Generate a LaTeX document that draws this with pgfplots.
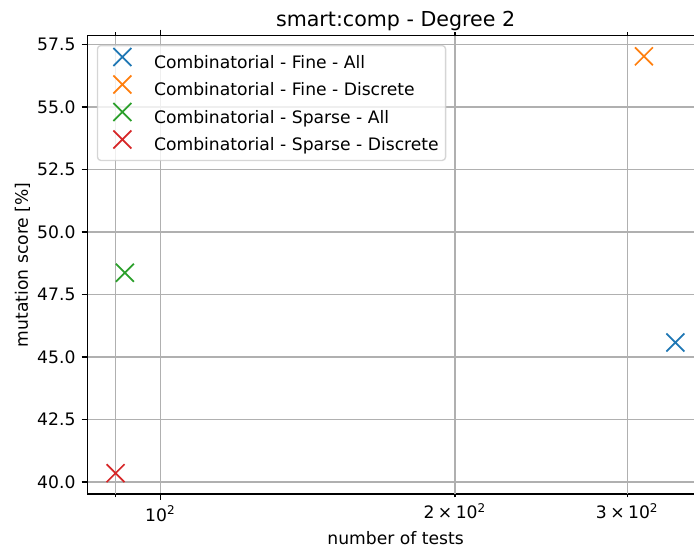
\documentclass[border=0pt]{standalone}
\usepackage{fontspec}
\setmainfont{DejaVu Sans}
\usepackage{pgfplots}
\pgfplotsset{compat=1.18}

\definecolor{c0}{HTML}{1F77B4}
\definecolor{c1}{HTML}{FF7F0E}
\definecolor{c2}{HTML}{2CA02C}
\definecolor{c3}{HTML}{D62728}
\definecolor{gridgray}{HTML}{B0B0B0}
\definecolor{legedge}{HTML}{CCCCCC}

\pgfplotsset{
  xmark/.style={only marks, mark=x, mark size=7.4pt, line width=1pt,
    mark options={solid},
    legend image code/.code={%
      \path (0pt,0pt) (20pt,0pt);
      \draw[##1, draw opacity=1, mark options={draw opacity=1}] plot coordinates {(10pt,3.5pt)};}},
}

\begin{document}
\begin{tikzpicture}
\begin{axis}[
  name=ax,
  xmode=log,
  scale only axis,
  width=359pt, height=267pt,
  xmin=84.25, xmax=359.2,
  ymin=39.52, ymax=57.86,
  font=\fontsize{10}{12}\selectfont,
  axis line style={line width=0.8pt, black},
  tick style={line width=0.8pt, black},
  tick align=outside,
  major tick length=3.5pt,
  xminorticks=false,
  yminorticks=false,
  xtick={100},
  xticklabels={10\textsuperscript{2}},
  extra x ticks={90,200,300},
  extra x tick labels={,2\hspace{2pt}×\hspace{2pt}10\textsuperscript{2},3\hspace{2pt}×\hspace{2pt}10\textsuperscript{2}},
  extra x tick style={major tick length=2pt, grid=major},
  ytick={40,42.5,45,47.5,50,52.5,55,57.5},
  yticklabel style={/pgf/number format/.cd, fixed, fixed zerofill, precision=1},
  /pgf/number format/assume math mode=true,
  grid=major,
  grid style={gridgray, line width=0.8pt},
  title={smart:comp - Degree 2},
  title style={at={(axis description cs:0.5,1)}, anchor=base, yshift=-0.5pt,
    inner sep=0pt, font=\fontsize{12}{14}\selectfont},
  xlabel={number of tests},
  xlabel style={at={(axis description cs:0.5,0)}, anchor=base, yshift=-29.7pt, inner sep=0pt},
  ylabel={mutation score [\%]},
  ylabel style={at={(axis description cs:-0.0967,0.5)}, anchor=base, inner sep=0pt},
  legend cell align=left,
  legend style={at={(axis description cs:0,1)}, anchor=north west,
    xshift=5.4pt, yshift=-5.4pt,
    draw=legedge, draw opacity=0.8, fill=white, fill opacity=0.8, text opacity=1,
    line width=0.8pt, rounded corners=2pt,
    inner xsep=4pt, inner ysep=1.4pt,
    /tikz/every odd column/.append style={column sep=8pt},
    nodes={inner sep=0pt, text height=10.4pt, text depth=4.2pt},
    font=\fontsize{10}{12}\selectfont},
]
% number of tests vs. mutation score for each configuration
\addplot[xmark, c0] coordinates {(336,45.58)};
\addlegendentry{Combinatorial - Fine - All}
\addplot[xmark, c1] coordinates {(312,57.03)};
\addlegendentry{Combinatorial - Fine - Discrete}
\addplot[xmark, c2] coordinates {(92,48.37)};
\addlegendentry{Combinatorial - Sparse - All}
\addplot[xmark, c3] coordinates {(90,40.35)};
\addlegendentry{Combinatorial - Sparse - Discrete}
\end{axis}
% page ends where the plot area is cut off on the right
\pgfresetboundingbox
\path[use as bounding box] ([shift={(-50.97pt,-34.95pt)}]ax.south west) rectangle ++(404.3pt,322.7pt);
\end{tikzpicture}
\end{document}
